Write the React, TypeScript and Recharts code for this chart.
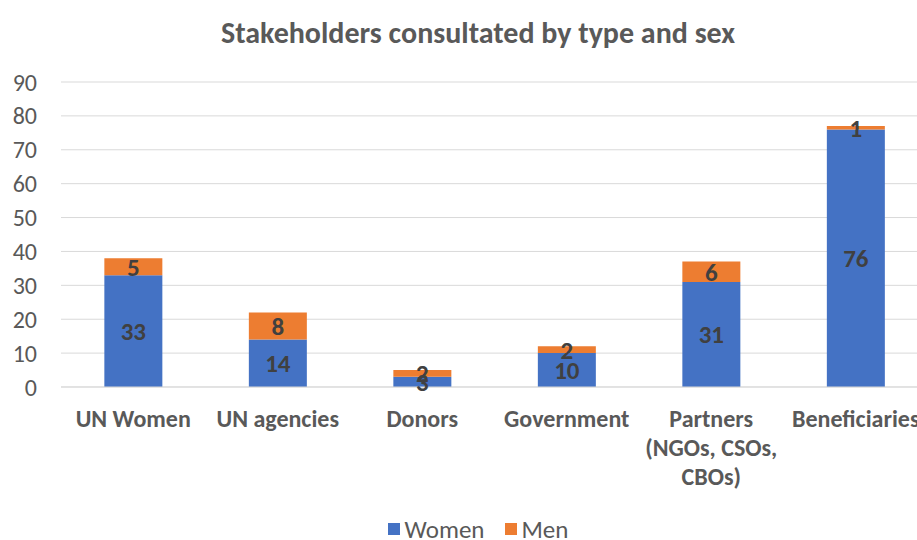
import React from "react";
import { BarChart, Bar, XAxis, YAxis, CartesianGrid, LabelList } from "recharts";

const categories = ["UN Women", "UN agencies", "Donors", "Government", "Partners\n(NGOs, CSOs,\nCBOs)", "Beneficiaries"];
const women = [33, 14, 3, 10, 31, 76];
const men = [5, 8, 2, 2, 6, 1];
const yTicks = [0, 10, 20, 30, 40, 50, 60, 70, 80, 90];

const data = categories.map((c, i) => ({ name: c, Women: women[i], Men: men[i] }));

const FONT = "Carlito, 'Liberation Sans', 'Noto Sans', sans-serif";
const TEXT = "#595959";

const XTick = (props: any) => {
  const { x, y, payload } = props;
  const lines = String(payload.value).split("\n");
  return (
    <g>
      {lines.map((l: string, i: number) => (
        <text key={i} x={x} y={y + 23 + i * 29} textAnchor="middle" dominantBaseline="central"
          fill={TEXT} fontSize={24} fontWeight={700} fontFamily={FONT}>{l}</text>
      ))}
    </g>
  );
};

export default function App() {
  return (
    <div style={{ position: "absolute", left: 0, top: 0, width: 917, height: 540, overflow: "hidden", background: "#fff" }}>
      <div style={{ position: "absolute", left: 0, top: 14, width: 956, textAlign: "center", fontFamily: FONT, fontWeight: 700, fontSize: 30, lineHeight: "38px", color: TEXT }}>
        Stakeholders consultated by type and sex
      </div>
      <BarChart width={930} height={540} data={data} barCategoryGap="30%"
        margin={{ top: 82, right: 2, bottom: 53, left: 0 }}>
        <CartesianGrid vertical={false} stroke="#d9d9d9" />
        <XAxis dataKey="name" interval={0} height={100} tickLine={false} axisLine={{ stroke: "#d9d9d9" }} tick={<XTick />} />
        <YAxis width={61} domain={[0, 90]} ticks={yTicks} interval={0} axisLine={false} tickLine={false}
          tickSize={0} tickMargin={24} tick={{ fill: TEXT, fontSize: 24, fontFamily: FONT }} />
        <Bar dataKey="Women" stackId="a" fill="#4472C4" isAnimationActive={false}>
          <LabelList dataKey="Women" position="center" fill="#404040" fontSize={25} fontWeight={700} fontFamily={FONT} />
        </Bar>
        <Bar dataKey="Men" stackId="a" fill="#ED7D31" isAnimationActive={false}>
          <LabelList dataKey="Men" position="center" fill="#404040" fontSize={25} fontWeight={700} fontFamily={FONT} />
        </Bar>
      </BarChart>
      <div style={{ position: "absolute", left: 0, top: 515, width: 956, height: 28, display: "flex", justifyContent: "center", alignItems: "center", fontFamily: FONT, fontSize: 25, color: TEXT }}>
        <span style={{ display: "inline-block", width: 12, height: 12, background: "#4472C4", marginRight: 5 }} />
        <span style={{ marginRight: 21 }}>Women</span>
        <span style={{ display: "inline-block", width: 12, height: 12, background: "#ED7D31", marginRight: 4 }} />
        <span>Men</span>
      </div>
    </div>
  );
}
